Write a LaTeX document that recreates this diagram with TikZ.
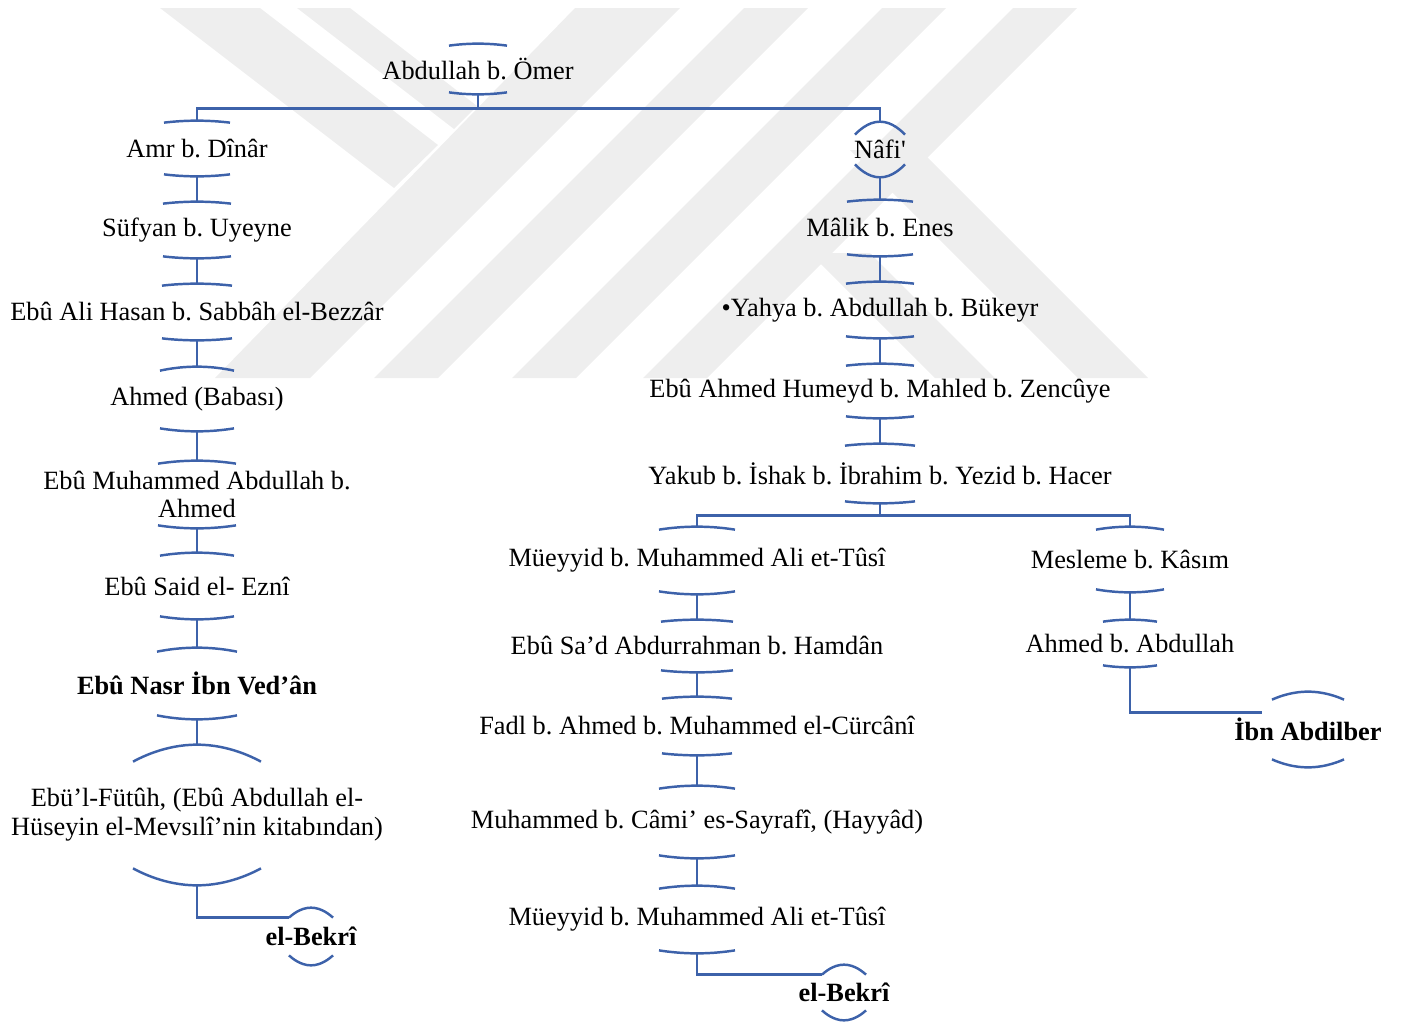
\documentclass[tikz,border=0pt]{standalone}
\usepackage{fontspec}
\setmainfont{Liberation Serif}
\usetikzlibrary{calc}
\frenchspacing

\definecolor{chainblue}{RGB}{61,98,170}
\definecolor{markgray}{RGB}{238,238,238}

% top and bottom caps of a name: node, half width, top depth, bottom depth
\newcommand{\capbar}[4]{%
  \draw[link] ([shift={(-#2,#3)}]#1.north) parabola bend (#1.north) ([shift={(#2,#3)}]#1.north);
  \draw[link] ([shift={(-#2,-#4)}]#1.south) parabola bend (#1.south) ([shift={(#2,-#4)}]#1.south);}

\begin{document}
\begin{tikzpicture}[x=0.02cm, y=-0.02cm,
  person/.style={font=\fontsize{15}{15.5}\selectfont, align=center,
                 inner sep=0pt, minimum height={#1*0.02cm}},
  person/.default=56,
  source/.style={person=#1, font=\fontsize{15}{15.5}\selectfont\bfseries},
  source/.default=56,
  link/.style={draw=chainblue, line width=1.4pt}
]
\useasboundingbox (0,0) rectangle (1401,1022);

% watermark
\fill[markgray] (160,8) -- (260,8) -- (438,145) -- (394,188) -- cycle;
\fill[markgray] (297,8) -- (350,8) -- (477,106) -- (454,129) -- cycle;
\fill[markgray] (575,8) -- (680,8) -- (310,378) -- (215,378) -- cycle;
\fill[markgray] (744,8) -- (808,8) -- (438,378) -- (374,378) -- cycle;
\fill[markgray] (882,8) -- (946,8) -- (576,378) -- (512,378) -- cycle;
\fill[markgray] (1013,8) -- (1077,8) -- (707,378) -- (643,378) -- cycle;
\fill[markgray] (850,150) -- (920,150) -- (1148,378) -- (1078,378) -- cycle;
\fill[markgray] (810,253) -- (870,253) -- (995,378) -- (935,378) -- cycle;

% root
\node[person=50] (abd) at (478,69) {Abdullah b. Ömer};

% left chain
\node[person=55] (amr)    at (197,148.5) {Amr b. Dînâr};
\node[person]    (sufyan) at (197,230) {Süfyan b. Uyeyne};
\node[person]    (hasan)  at (197,312) {Ebû Ali Hasan b. Sabbâh el-Bezzâr};
\node[person=64] (ahmedb) at (197,399) {Ahmed (Babası)};
\node[person=67] (ebum)   at (197,494.5) {Ebû Muhammed Abdullah b.\\Ahmed};
\node[person=66] (said)   at (197,586) {Ebû Said el- Eznî};
\node[source=71] (nasr)   at (197,683.5) {Ebû Nasr İbn Ved’ân};
\node[person=140] (futuh) at (197,815) {Ebü’l-Fütûh, (Ebû Abdullah el-\\[1pt]Hüseyin el-Mevsılî’nin kitabından)};
\node[source=57] (bekriA)  at (311,936.5) {el-Bekrî};

% right chain
\node[person=55] (nafi)   at (880,149.5) {Nâfi\textquotesingle};
\node[person]    (malik)  at (880,228) {Mâlik b. Enes};
\node[person]    (yahya)  at (880,310) {•Yahya b. Abdullah b. Bükeyr};
\node[person=54] (humeyd) at (880,391) {Ebû Ahmed Humeyd b. Mahled b. Zencûye};
\node[person=59] (yakub)  at (880,473.5) {Yakub b. İshak b. İbrahim b. Yezid b. Hacer};

\node[person=67] (mueyyidA) at (697,560.5) {Müeyyid b. Muhammed Ali et-Tûsî};
\node[person=52] (saad)     at (697,646) {Ebû Sa’d Abdurrahman b. Hamdân};
\node[person=58] (fadl)     at (697,726) {Fadl b. Ahmed b. Muhammed el-Cürcânî};
\node[person=72] (cami)     at (697,822) {Muhammed b. Câmi’ es-Sayrafî, (Hayyâd)};
\node[person=67] (mueyyidB) at (697,919.5) {Müeyyid b. Muhammed Ali et-Tûsî};
\node[source=55] (bekriB)   at (844,992.5) {el-Bekrî};

\node[person=65] (mesleme)  at (1130,559.5) {Mesleme b. Kâsım};
\node[person=47] (ahmedA)   at (1130,643.5) {Ahmed b. Abdullah};
\node[source=75] (abdilber) at (1308,729.5) {İbn Abdilber};

% caps
\capbar{abd}{29}{2}{2}
\capbar{amr}{33}{2}{2}
\capbar{sufyan}{34}{2}{2}
\capbar{hasan}{35}{2}{2}
\capbar{ahmedb}{37}{4}{3}
\capbar{ebum}{39}{3}{3}
\capbar{said}{37}{3}{3}
\capbar{nasr}{40}{4}{4}
\capbar{futuh}{64}{17}{17}
\capbar{bekriA}{22}{10}{10}
\capbar{nafi}{25}{13}{13}
\capbar{malik}{33}{2}{2}
\capbar{yahya}{34}{2}{2}
\capbar{humeyd}{34}{2}{2}
\capbar{yakub}{35}{2}{2}
\capbar{mueyyidA}{38}{3}{3}
\capbar{saad}{36}{2}{2}
\capbar{fadl}{35}{2}{2}
\capbar{cami}{38}{3}{3}
\capbar{mueyyidB}{38}{3}{3}
\capbar{bekriB}{22}{10}{10}
\capbar{mesleme}{34}{3}{3}
\capbar{ahmedA}{27}{2}{2}
\capbar{abdilber}{36}{8}{8}

% root split
\coordinate (rootsplit) at ($(abd.south)+(0,14)$);
\draw[link] (abd.south) -- (rootsplit);
\draw[link] (amr.north) |- (rootsplit) -| (nafi.north);

% left links
\draw[link] (amr.south) -- (sufyan.north);
\draw[link] (sufyan.south) -- (hasan.north);
\draw[link] (hasan.south) -- (ahmedb.north);
\draw[link] (ahmedb.south) -- (ebum.north);
\draw[link] (ebum.south) -- (said.north);
\draw[link] (said.south) -- (nasr.north);
\draw[link] (nasr.south) -- (futuh.north);
\draw[link] (futuh.south) |- ([shift={(-22,10)}]bekriA.north);

% right links
\draw[link] (nafi.south) -- (malik.north);
\draw[link] (malik.south) -- (yahya.north);
\draw[link] (yahya.south) -- (humeyd.north);
\draw[link] (humeyd.south) -- (yakub.north);

\coordinate (yakubsplit) at ($(yakub.south)+(0,12)$);
\draw[link] (yakub.south) -- (yakubsplit);
\draw[link] (mueyyidA.north) |- (yakubsplit) -| (mesleme.north);

\draw[link] (mueyyidA.south) -- (saad.north);
\draw[link] (saad.south) -- (fadl.north);
\draw[link] (fadl.south) -- (cami.north);
\draw[link] (cami.south) -- (mueyyidB.north);
\draw[link] (mueyyidB.south) |- ([shift={(-22,10)}]bekriB.north);

\draw[link] (mesleme.south) -- (ahmedA.north);
\draw[link] (ahmedA.south) |- ([shift={(-46,21)}]abdilber.north);

\end{tikzpicture}
\end{document}
